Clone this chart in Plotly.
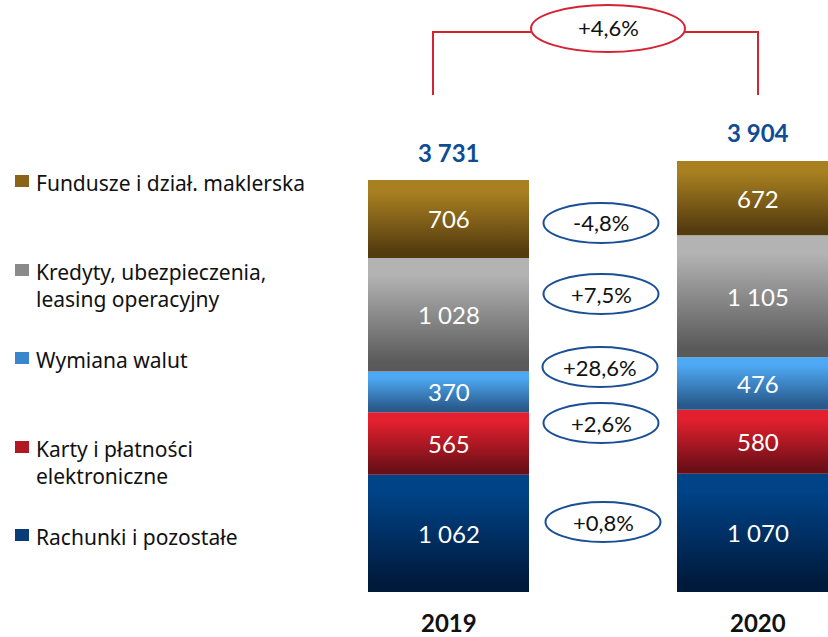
import plotly.graph_objects as go

# ---------------- data ----------------
years = ["2019", "2020"]
categories = [
    "Rachunki i pozostałe",
    "Karty i płatności<br>elektroniczne",
    "Wymiana walut",
    "Kredyty, ubezpieczenia,<br>leasing operacyjny",
    "Fundusze i dział. maklerska",
]
values_2019 = [1062, 565, 370, 1028, 706]
values_2020 = [1070, 580, 476, 1105, 672]
totals = [3731, 3904]
changes = ["+0,8%", "+2,6%", "+28,6%", "+7,5%", "-4,8%"]
total_change = "+4,6%"

# ---------------- styles ----------------
W, H = 828, 637
grad = [  # (bottom/dark, top/light)
    ("#001a3c", "#004387"),
    ("#6b0f17", "#e3202f"),
    ("#28598a", "#4ea9f4"),
    ("#5a5a5a", "#b3b3b3"),
    ("#553c0f", "#a88021"),
]
legend_sq = ["#0a3d78", "#b01822", "#3a86cc", "#8a8a8a", "#8a6418"]

# pixel geometry
x_center_px = [448.5, 757.5]
px_per_x = 309.0
bar_w = 161 / px_per_x
base_px = 592
px_per_val = 412 / 3731

def fmt(v):
    return f"{v:,}".replace(",", " ")

def px(x):
    return x / W

def py(y):
    return 1 - y / H

fig = go.Figure()
series = [values_2019, values_2020]
for bi, vals in enumerate(series):
    c = bi  # numeric x position
    base = 0
    for ci, v in enumerate(vals):
        top = base + v
        fig.add_trace(go.Scatter(
            x=[c - bar_w / 2, c + bar_w / 2, c + bar_w / 2, c - bar_w / 2, c - bar_w / 2],
            y=[base, base, top, top, base],
            mode="lines", line=dict(width=0), fill="toself",
            fillgradient=dict(type="vertical",
                              colorscale=[[0, grad[ci][0]], [0.08, grad[ci][0]],
                                          [0.85, grad[ci][1]], [1, grad[ci][1]]]),
            hoverinfo="skip", showlegend=False,
        ))
        fig.add_annotation(x=c, y=base + v / 2, xref="x", yref="y", text=fmt(v),
                           showarrow=False, font=dict(family="Lato", size=24, color="white"))
        base = top
    # total label
    fig.add_annotation(x=c, y=totals[bi], xref="x", yref="y", text=f"<b>{fmt(totals[bi])}</b>",
                       showarrow=False, yanchor="middle", yshift=28,
                       font=dict(family="Lato", size=24, color="#0f4c96"))
    # year label
    fig.add_annotation(x=c, y=0, xref="x", yref="y", text=f"<b>{years[bi]}</b>",
                       showarrow=False, yanchor="middle", yshift=-30,
                       font=dict(family="Lato", size=24, color="#111111"))

# change ellipses (pixel layout positions)
ell_centers = [(603, 522), (601, 423), (600, 367), (601, 294), (601, 223)]
for (cx, cy), txt in zip(ell_centers, changes):
    fig.add_shape(type="circle", xref="paper", yref="paper",
                  x0=px(cx - 57.5), x1=px(cx + 57.5), y0=py(cy + 20), y1=py(cy - 20),
                  line=dict(color="#1a4f96", width=2), fillcolor="rgba(0,0,0,0)")
    fig.add_annotation(x=px(cx), y=py(cy), xref="paper", yref="paper", text=txt,
                       xanchor="center", yanchor="middle",
                       showarrow=False, font=dict(family="Lato", size=22, color="#111111"))

# total change bracket
red = "#d42333"
fig.add_shape(type="path", xref="paper", yref="paper",
              path=f"M {px(433)} {py(95)} L {px(433)} {py(32)} L {px(531)} {py(32)}",
              line=dict(color=red, width=2))
fig.add_shape(type="path", xref="paper", yref="paper",
              path=f"M {px(685)} {py(32)} L {px(758)} {py(32)} L {px(758)} {py(95)}",
              line=dict(color=red, width=2))
fig.add_shape(type="circle", xref="paper", yref="paper",
              x0=px(531), x1=px(685), y0=py(52), y1=py(5),
              line=dict(color=red, width=2), fillcolor="white")
fig.add_annotation(x=px(608), y=py(28), xref="paper", yref="paper", text=total_change,
                   xanchor="center", yanchor="middle",
                   showarrow=False, font=dict(family="Lato", size=22, color="#111111"))

# custom legend
leg_y = [535, 447, 358, 270, 181]
for ci, (name, ly) in enumerate(zip(categories, leg_y)):
    fig.add_shape(type="rect", xref="paper", yref="paper",
                  x0=px(15), x1=px(29), y0=py(ly + 6), y1=py(ly - 6),
                  line=dict(width=0), fillcolor=legend_sq[ci])
    fig.add_annotation(x=px(34), y=py(ly - 14), xref="paper", yref="paper", text=name,
                       showarrow=False, xanchor="left", yanchor="top", align="left",
                       font=dict(family="Noto Sans", size=21, color="#111111"))

fig.update_layout(
    width=W, height=H,
    margin=dict(l=0, r=0, t=0, b=0),
    paper_bgcolor="white", plot_bgcolor="white",
    xaxis=dict(visible=False, range=[-x_center_px[0] / px_per_x, (W - x_center_px[0]) / px_per_x]),
    yaxis=dict(visible=False, range=[-(H - base_px) / px_per_val, base_px / px_per_val]),
    showlegend=False,
)
fig.write_html("out.html", config={"displayModeBar": False},
               post_script="document.body.style.margin='0';document.body.style.overflow='hidden';")
